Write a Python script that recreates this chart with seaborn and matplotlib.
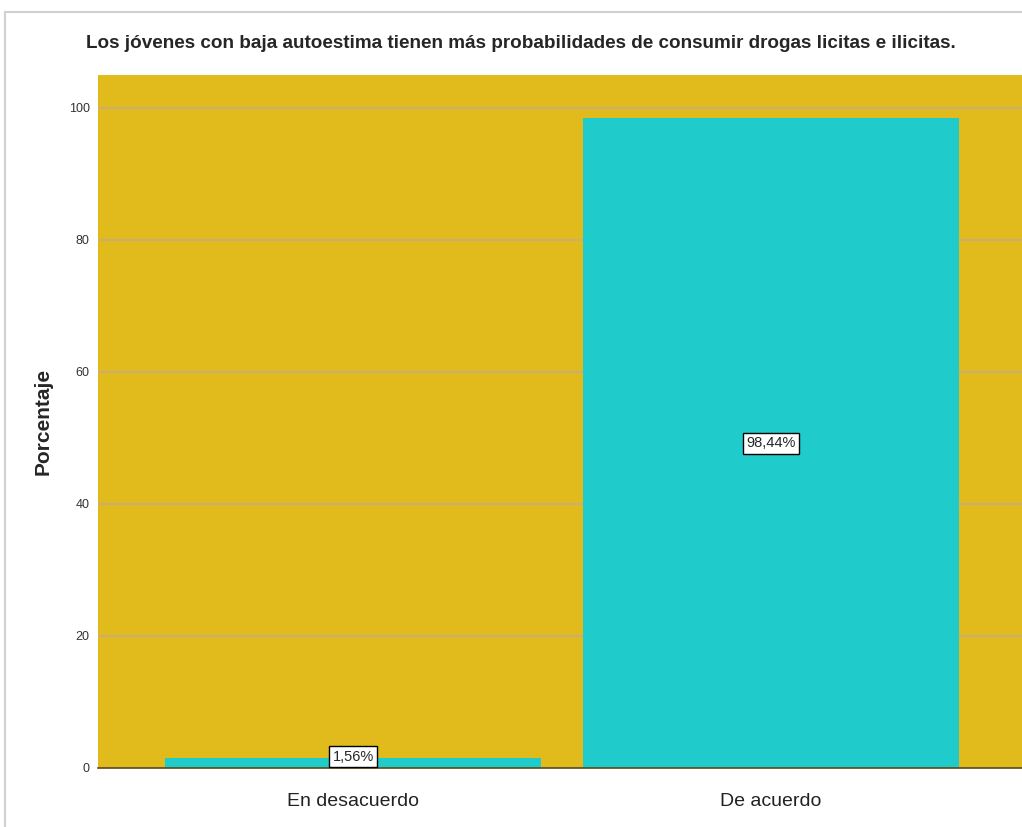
import matplotlib.pyplot as plt
import matplotlib.patches as mpatches
import seaborn as sns
import pandas as pd

categories = ["En desacuerdo", "De acuerdo"]
percentages = [1.56, 98.44]
bar_labels = ["1,56%", "98,44%"]
y_ticks = [0, 20, 40, 60, 80, 100]

title = "Los jóvenes con baja autoestima tienen más probabilidades de consumir drogas licitas e ilicitas."

sns.set_style("white")
plt.rcParams["font.family"] = ["Liberation Sans", "DejaVu Sans"]

df = pd.DataFrame({"Respuesta": categories, "Porcentaje": percentages})

fig = plt.figure(figsize=(10.22, 8.27), dpi=100)
ax = fig.add_axes([98 / 1022, 59 / 827, 1 - 98 / 1022, (768 - 75) / 827])
ax.set_facecolor("#E1BA1C")

ax.set_axisbelow(True)
ax.yaxis.grid(True, color="#CBAE6E", linewidth=1.6)
sns.barplot(data=df, x="Respuesta", y="Porcentaje", color="#1FCBCB",
            width=0.9, saturation=1, linewidth=0, ax=ax, zorder=2)

ax.set_xlim(-0.61, 1.6)
ax.set_ylim(0, 105)
ax.set_yticks(y_ticks)
ax.tick_params(axis="y", labelsize=9, length=0, pad=6, labelcolor="#333333")
ax.tick_params(axis="x", labelsize=14, length=0, pad=18, labelcolor="#222222")
ax.set_xlabel("")
ax.set_ylabel("Porcentaje", fontsize=15, fontweight="bold")
ax.yaxis.set_label_coords(-0.049, 0.5)

for s in ["top", "right", "left"]:
    ax.spines[s].set_visible(False)
ax.spines["bottom"].set_color("#5a4a10")
ax.spines["bottom"].set_linewidth(1.2)

for i, (v, lab) in enumerate(zip(percentages, bar_labels)):
    ax.text(i, max(v / 2, 1.7), lab, ha="center", va="center", fontsize=10.5,
            bbox=dict(boxstyle="square,pad=0.25", facecolor="white",
                      edgecolor="black", linewidth=1), zorder=5)

fig.text(521 / 1022, 1 - 43 / 827, title, ha="center", va="center",
         fontsize=13.6, fontweight="bold")

# thin light frame around the chart
fig.add_artist(mpatches.Rectangle((5 / 1022, -0.01), 1.02, 1 - 12 / 827 + 0.01,
                                  transform=fig.transFigure, fill=False,
                                  edgecolor="#d0d0d0", linewidth=1.5))

fig.savefig("out.png", dpi=100)
